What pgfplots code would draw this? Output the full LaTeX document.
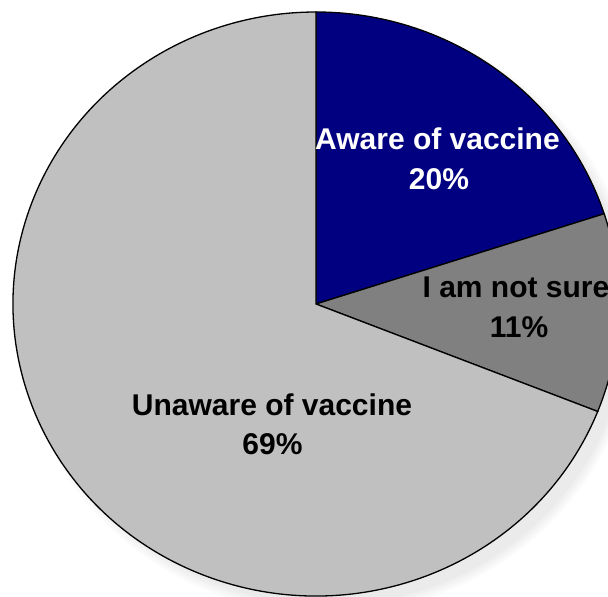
\documentclass[border=0pt]{standalone}
\usepackage{pgfplots}
\pgfplotsset{compat=1.18}
\usepackage{fontspec}
\setmainfont{Liberation Sans}
\definecolor{aware}{HTML}{000080}
\definecolor{notsure}{HTML}{808080}
\definecolor{unaware}{HTML}{C0C0C0}
\begin{document}
\begin{tikzpicture}[
  lbl/.style={font=\bfseries\fontsize{30}{36}\selectfont, anchor=base, inner sep=0pt},
  shad/.style={black, opacity=0.02},
]
\useasboundingbox (0,0) rectangle (608pt,597pt);
\begin{axis}[
  at={(0,0)}, anchor=south west,
  scale only axis, width=608pt, height=597pt,
  xmin=0, xmax=608, ymin=0, ymax=597,
  hide axis, clip=true,
]
% shares (percent): aware 20, not sure 11, unaware 69 -> 3.6 deg per percent, starting at 90 deg
% soft shadow, bottom right
\fill[shad] (axis cs:328,281) ellipse [x radius=300pt, y radius=289pt];
\fill[shad] (axis cs:328,281) ellipse [x radius=303pt, y radius=292pt];
\fill[shad] (axis cs:328,281) ellipse [x radius=306pt, y radius=295pt];
\fill[shad] (axis cs:328,281) ellipse [x radius=309pt, y radius=298pt];
\filldraw[fill=aware, line width=1.3pt] (axis cs:316,293) -- +(90:303pt and 292pt)
  arc[start angle=90, end angle={90-3.6*20}, x radius=303pt, y radius=292pt] -- cycle;
\filldraw[fill=notsure, line width=1.3pt] (axis cs:316,293) -- +({90-3.6*20}:303pt and 292pt)
  arc[start angle={90-3.6*20}, end angle={90-3.6*31}, x radius=303pt, y radius=292pt] -- cycle;
\filldraw[fill=unaware, line width=1.3pt] (axis cs:316,293) -- +({90-3.6*31}:303pt and 292pt)
  arc[start angle={90-3.6*31}, end angle={90-3.6*100}, x radius=303pt, y radius=292pt] -- cycle;
\node[lbl, text=white] at (axis cs:437.5,447) {Aware of vaccine};
\node[lbl, text=white] at (axis cs:439,407) {20\%};
\node[lbl] at (axis cs:516,299) {I am not sure};
\node[lbl] at (axis cs:519,259) {11\%};
\node[lbl] at (axis cs:272,181) {Unaware of vaccine};
\node[lbl] at (axis cs:272.5,142) {69\%};
\end{axis}
\end{tikzpicture}
\end{document}
